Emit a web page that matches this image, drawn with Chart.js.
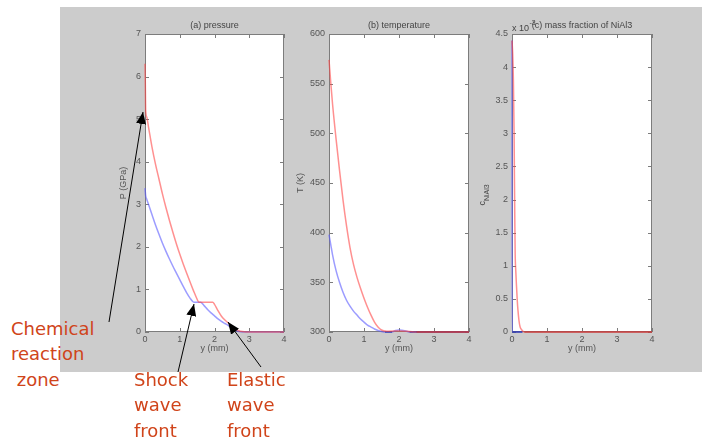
<!DOCTYPE html>
<html>
<head>
<meta charset="utf-8">
<script src="https://cdn.jsdelivr.net/npm/chart.js@4.4.0/dist/chart.umd.min.js"></script>
<style>
  html, body { margin: 0; padding: 0; background: #fff; }
  body { width: 702px; height: 443px; position: relative; overflow: hidden; }
  #figBg { position: absolute; left: 60px; top: 7px; width: 642px; height: 365px; background: #cccccc; }
  canvas { position: absolute; top: 7px; }
  #cvP { left: 95px; }
  #cvT { left: 290px; }
  #cvC { left: 470px; }
  .note { position: absolute; color: #d0441a; font-family: "DejaVu Sans", Verdana, sans-serif; font-size: 18px; line-height: 25.3px; white-space: nowrap; }
  #arrows { position: absolute; left: 0; top: 0; }
</style>
</head>
<body>
<div id="figBg"></div>
<canvas id="cvP" width="195" height="365"></canvas>
<canvas id="cvT" width="189" height="365"></canvas>
<canvas id="cvC" width="192" height="365"></canvas>

<div class="note" style="left:11px; top:316px;">Chemical<br>reaction<br>&nbsp;zone</div>
<div class="note" style="left:134px; top:367px;">Shock<br>wave<br>front</div>
<div class="note" style="left:227px; top:367px;">Elastic<br>wave<br>front</div>

<svg id="arrows" width="702" height="443">
  <defs>
    <marker id="head" markerWidth="12" markerHeight="10" refX="12" refY="5" orient="auto" markerUnits="userSpaceOnUse">
      <path d="M0,0 L12,5 L0,10 z" fill="#000"/>
    </marker>
  </defs>
  <line x1="109" y1="322" x2="143" y2="112" stroke="#000" stroke-width="1" marker-end="url(#head)"/>
  <line x1="178" y1="372" x2="194" y2="304" stroke="#000" stroke-width="1" marker-end="url(#head)"/>
  <line x1="261" y1="367" x2="228" y2="322" stroke="#000" stroke-width="1" marker-end="url(#head)"/>
</svg>

<script>
// shared x axis: distance y in mm
const xTicks = [0, 1, 2, 3, 4];

// (a) pressure, GPa
const pTicks = [0, 1, 2, 3, 4, 5, 6, 7];
const pDepthRed = [0, 0.01, 0.02, 0.05, 0.1, 0.2, 0.3, 0.4, 0.5, 0.6, 0.7, 0.8, 0.9, 1.0, 1.1, 1.2, 1.3, 1.4, 1.5, 1.55, 1.95, 2.0, 2.1, 2.2, 2.3, 2.4, 2.5, 2.6, 2.7, 2.8, 2.9, 4.0];
const pRed = [6.3, 5.8, 5.2, 5.05, 4.82, 4.35, 3.95, 3.6, 3.25, 2.93, 2.63, 2.35, 2.08, 1.83, 1.6, 1.38, 1.17, 0.96, 0.77, 0.7, 0.7, 0.65, 0.5, 0.37, 0.28, 0.21, 0.13, 0.07, 0.03, 0.01, 0, 0];
const pDepthBlue = [0, 0.02, 0.05, 0.1, 0.2, 0.3, 0.4, 0.5, 0.6, 0.7, 0.8, 0.9, 1.0, 1.1, 1.2, 1.3, 1.38, 1.42, 1.6, 1.7, 1.8, 1.9, 2.0, 2.1, 2.2, 2.3, 2.4, 2.5, 2.6, 2.7, 2.8, 4.0];
const pBlue = [3.38, 3.2, 3.12, 3.0, 2.76, 2.52, 2.3, 2.09, 1.9, 1.72, 1.55, 1.39, 1.23, 1.07, 0.92, 0.79, 0.71, 0.7, 0.7, 0.62, 0.53, 0.45, 0.38, 0.31, 0.25, 0.2, 0.15, 0.09, 0.04, 0.01, 0, 0];

// (b) temperature, K
const tTicks = [300, 350, 400, 450, 500, 550, 600];
const tDepthRed = [0, 0.02, 0.05, 0.1, 0.2, 0.3, 0.4, 0.5, 0.6, 0.7, 0.8, 0.9, 1.0, 1.1, 1.2, 1.3, 1.4, 1.5, 1.6, 1.7, 2.0, 2.3, 2.5, 4.0];
const tRed = [574, 565, 551, 530, 495, 463, 433, 407, 385, 368, 355, 344, 334, 325, 317, 310, 305, 302, 301, 300.8, 301, 300.5, 300, 300];
const tDepthBlue = [0, 0.05, 0.1, 0.2, 0.3, 0.4, 0.5, 0.6, 0.7, 0.8, 0.9, 1.0, 1.1, 1.2, 1.3, 1.4, 1.5, 1.6, 1.8, 1.9, 2.0, 2.2, 2.3, 4.0];
const tBlue = [398, 388, 378, 362, 350, 340, 332, 326, 321, 317, 313, 310, 307, 305, 303, 301.5, 300.5, 300, 300, 301.5, 302, 301, 300, 300];

// (c) mass fraction of NiAl3, in units of 1e-3
const cTicks = [0, 0.5, 1, 1.5, 2, 2.5, 3, 3.5, 4, 4.5];
const cDepthRed = [0, 0.02, 0.04, 0.06, 0.07, 0.08, 0.09, 0.11, 0.13, 0.15, 0.17, 0.2, 0.23, 0.28, 0.35, 4.0];
const cRed = [4.4, 4.2, 3.8, 3.0, 2.3, 1.7, 1.2, 0.9, 0.68, 0.48, 0.33, 0.17, 0.08, 0.03, 0, 0];
const cDepthBlue = [0, 0.005, 0.3];
const cBlue = [4.4, 0, 0];

const tickFont = { family: '"Liberation Sans", Arial, sans-serif', size: 9 };
const RED = 'rgba(255, 70, 70, 0.6)';
const BLUE = 'rgba(90, 90, 255, 0.6)';

function pairs(xs, ys) {
    return xs.map((x, i) => ({ x: x, y: ys[i] }));
}

// matlab-ish axes: white plot box, grey frame, inward tick marks on every side
const matlabBox = {
    id: 'matlabBox',
    beforeDatasetsDraw(chart) {
        const { ctx, chartArea: a, scales } = chart;
        ctx.save();
        ctx.fillStyle = '#fff';
        ctx.fillRect(a.left, a.top, a.right - a.left, a.bottom - a.top);
        ctx.strokeStyle = '#7c7c7c';
        ctx.lineWidth = 1;
        ctx.strokeRect(a.left + 0.5, a.top + 0.5, a.right - a.left - 1, a.bottom - a.top - 1);
        ctx.beginPath();
        scales.x.ticks.forEach(t => {
            const px = Math.round(scales.x.getPixelForValue(t.value)) + 0.5;
            ctx.moveTo(px, a.bottom); ctx.lineTo(px, a.bottom - 4);
            ctx.moveTo(px, a.top); ctx.lineTo(px, a.top + 4);
        });
        scales.y.ticks.forEach(t => {
            const py = Math.round(scales.y.getPixelForValue(t.value)) + 0.5;
            ctx.moveTo(a.left, py); ctx.lineTo(a.left + 4, py);
            ctx.moveTo(a.right, py); ctx.lineTo(a.right - 4, py);
        });
        ctx.stroke();
        ctx.restore();
    }
};

// exponent label and subscripted y label of panel (c)
const cExtras = {
    id: 'cExtras',
    afterDraw(chart) {
        const { ctx, chartArea: a } = chart;
        ctx.save();
        ctx.fillStyle = '#444';
        ctx.textBaseline = 'alphabetic';
        ctx.font = '9px "Liberation Sans", Arial, sans-serif';
        ctx.fillText('x 10', a.left, a.top - 3.5);
        const w = ctx.measureText('x 10').width;
        ctx.font = '7px "Liberation Sans", Arial, sans-serif';
        ctx.fillText('-3', a.left + w + 0.5, a.top - 9.5);

        ctx.translate(a.left - 27.5, 188);
        ctx.rotate(-Math.PI / 2);
        ctx.font = '9px "Liberation Sans", Arial, sans-serif';
        const wc = ctx.measureText('c').width;
        ctx.font = '7px "Liberation Sans", Arial, sans-serif';
        const ws = ctx.measureText('NiAl3').width;
        const x0 = -(wc + ws) / 2;
        ctx.font = '9px "Liberation Sans", Arial, sans-serif';
        ctx.fillText('c', x0, 0);
        ctx.font = '7px "Liberation Sans", Arial, sans-serif';
        ctx.fillText('NiAl3', x0 + wc, 4.5);
        ctx.restore();
    }
};

function makePanel(id, cfg) {
    const flatColor = (lineColor, dark) => ctx =>
        (cfg.darkFloor && ctx.p0.parsed.y === cfg.min && ctx.p1.parsed.y === cfg.min) ? dark : lineColor;

    return new Chart(document.getElementById(id), {
        type: 'line',
        data: {
            datasets: [
                {
                    data: pairs(cfg.redX, cfg.redY),
                    borderColor: RED,
                    borderWidth: 1.5,
                    pointRadius: 0,
                    cubicInterpolationMode: 'monotone',
                    clip: 3,
                    segment: { borderColor: flatColor(RED, '#cc3a3a') }
                },
                {
                    data: pairs(cfg.blueX, cfg.blueY),
                    borderColor: BLUE,
                    borderWidth: 1.5,
                    pointRadius: 0,
                    cubicInterpolationMode: 'monotone',
                    clip: 3,
                    segment: { borderColor: flatColor(BLUE, '#2c36b8') }
                }
            ]
        },
        options: {
            responsive: false,
            devicePixelRatio: 1,
            animation: false,
            layout: { padding: { left: 0, right: cfg.padRight, top: 0, bottom: 0 } },
            scales: {
                x: {
                    type: 'linear',
                    min: 0,
                    max: 4,
                    afterBuildTicks: s => { s.ticks = xTicks.map(v => ({ value: v })); },
                    afterFit: s => { s.height = 40; },
                    grid: { display: false, drawTicks: false },
                    border: { display: false },
                    ticks: { font: tickFont, color: '#555', padding: 2, maxRotation: 0, callback: v => String(v) },
                    title: { display: true, text: 'y (mm)', font: tickFont, color: '#555', padding: { top: 0, bottom: 17.6 } }
                },
                y: {
                    type: 'linear',
                    min: cfg.min,
                    max: cfg.max,
                    afterBuildTicks: s => { s.ticks = cfg.ticks.map(v => ({ value: v })); },
                    afterFit: s => { s.width = cfg.yWidth; },
                    grid: { display: false, drawTicks: false },
                    border: { display: false },
                    ticks: { font: tickFont, color: '#555', padding: 4, callback: v => String(v) },
                    title: {
                        display: !!cfg.yTitle,
                        text: cfg.yTitle,
                        font: tickFont,
                        color: '#555',
                        padding: { top: cfg.yTitlePad, bottom: 0 }
                    }
                }
            },
            plugins: {
                legend: { display: false },
                tooltip: { enabled: false },
                title: {
                    display: true,
                    text: cfg.title,
                    fullSize: false,
                    color: '#444',
                    font: { family: '"Liberation Sans", Arial, sans-serif', size: 9, weight: 'normal' },
                    padding: { top: 13.6, bottom: 2.6 }
                }
            }
        },
        plugins: cfg.extra ? [matlabBox, cfg.extra] : [matlabBox]
    });
}

makePanel('cvP', {
    title: '(a) pressure', yTitle: 'P (GPa)', yTitlePad: 23.6, yWidth: 50, padRight: 6,
    min: 0, max: 7, ticks: pTicks, darkFloor: false,
    redX: pDepthRed, redY: pRed, blueX: pDepthBlue, blueY: pBlue
});

makePanel('cvT', {
    title: '(b) temperature', yTitle: 'T (K)', yTitlePad: 5.6, yWidth: 39, padRight: 10,
    min: 300, max: 600, ticks: tTicks, darkFloor: true,
    redX: tDepthRed, redY: tRed, blueX: tDepthBlue, blueY: tBlue
});

makePanel('cvC', {
    title: '(c) mass fraction of NiAl3', yTitle: '', yTitlePad: 0, yWidth: 42, padRight: 10,
    min: 0, max: 4.5, ticks: cTicks, darkFloor: true,
    redX: cDepthRed, redY: cRed, blueX: cDepthBlue, blueY: cBlue,
    extra: cExtras
});
</script>
</body>
</html>
